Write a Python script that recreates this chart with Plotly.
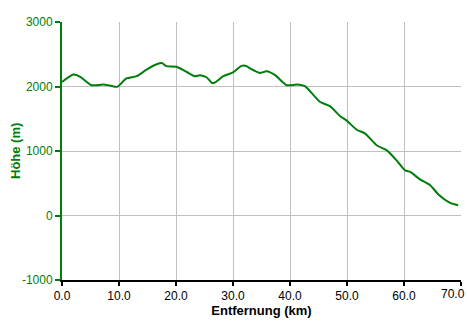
import plotly.graph_objects as go

dist_km = [0.0, 2.0, 3.2, 5.2, 7.2, 8.4, 9.7, 11.3, 13.1, 14.9, 16.6, 17.5, 18.3, 20.1,
           21.9, 23.3, 24.2, 25.4, 26.3, 26.8, 28.3, 30.0, 31.5, 32.4, 33.0, 34.7, 35.9,
           37.4, 39.4, 41.2, 42.6, 45.3, 47.0, 48.8, 49.9, 51.7, 53.2, 55.2, 57.0, 58.7,
           60.2, 61.1, 62.8, 64.6, 66.0, 68.1, 69.5]
elev_m = [2070, 2185, 2150, 2020, 2030, 2015, 1995, 2125, 2160, 2265, 2345, 2365, 2315, 2305,
          2225, 2160, 2175, 2140, 2055, 2060, 2160, 2220, 2320, 2315, 2280, 2210, 2235,
          2175, 2020, 2030, 2005, 1760, 1695, 1540, 1475, 1330, 1270, 1090, 1010, 855,
          700, 675, 560, 470, 330, 195, 160]

x_ticks = [0, 10, 20, 30, 40, 50, 60, 70]
x_labels = [f"{v:.1f}" for v in x_ticks]
y_ticks = [-1000, 0, 1000, 2000, 3000]
y_labels = ["-1000", "0", "1000", "2000", "3000"]

green = "#007d0a"
font = "Liberation Sans, Arial, sans-serif"

fig = go.Figure(go.Scatter(x=dist_km, y=elev_m, mode="lines",
                           line=dict(color=green, width=2, shape="spline", smoothing=0.6),
                           hoverinfo="skip"))

# last x label is pushed inside the page edge (as in the reference)
shown_x_labels = x_labels[:-1] + [""]

fig.update_layout(
    width=467, height=323,
    margin=dict(l=62, r=6, t=22, b=43),
    paper_bgcolor="white", plot_bgcolor="white",
    showlegend=False,
    font=dict(family=font, size=12),
    xaxis=dict(range=[0, 70], tickvals=x_ticks, ticktext=shown_x_labels,
               showgrid=True, gridcolor="#c0c0c0", gridwidth=1, zeroline=False,
               showline=True, linecolor="black", linewidth=2,
               ticks="outside", ticklen=4, tickwidth=2, tickcolor="black",
               tickfont=dict(color="black", size=12, family=font),
               ticklabeloverflow="allow",
               title=dict(text="<b>Entfernung (km)</b>", font=dict(size=13, color="black", family=font), standoff=3),
               automargin=False),
    yaxis=dict(range=[-1000, 3000], tickvals=y_ticks, ticktext=y_labels,
               showgrid=True, gridcolor="#c0c0c0", gridwidth=1, zeroline=False,
               showline=True, linecolor=green, linewidth=2,
               ticks="outside", ticklen=5, tickwidth=2, tickcolor=green,
               tickfont=dict(color=green, size=12, family=font),
               ticklabeloverflow="allow",
               automargin=False),
    annotations=[
        dict(text="<b>Höhe (m)</b>", textangle=-90, xref="paper", yref="paper",
             x=-47/399, y=0.5, xanchor="center", yanchor="middle", showarrow=False,
             font=dict(size=13, color=green, family=font)),
        dict(text=x_labels[-1], xref="paper", yref="paper", x=1.0, y=0,
             xanchor="right", yanchor="top", xshift=5, yshift=-6, showarrow=False,
             borderpad=0, font=dict(size=12, color="black", family=font)),
    ],
)

fig.write_html("out.html")
